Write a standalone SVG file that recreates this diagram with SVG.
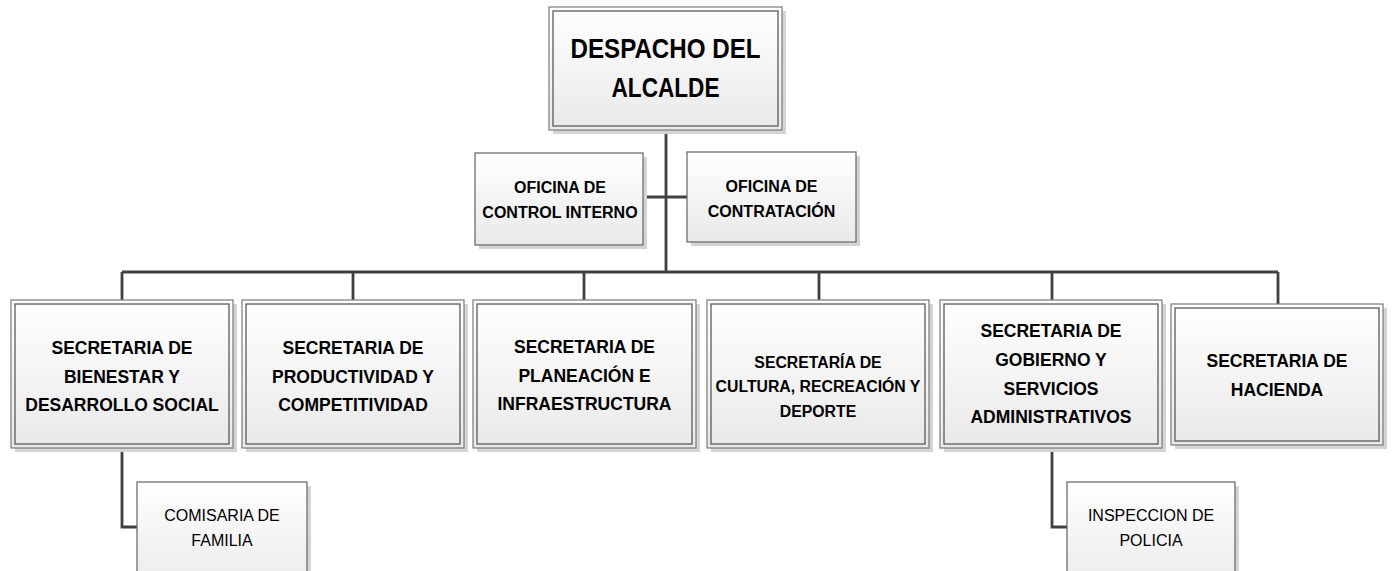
<svg xmlns="http://www.w3.org/2000/svg" width="1392" height="571" viewBox="0 0 1392 571">
<defs>
<linearGradient id="g" x1="0" y1="0" x2="0" y2="1">
<stop offset="0" stop-color="#ffffff"/>
<stop offset="1" stop-color="#e9e9e9"/>
</linearGradient>
<style>
.sh{fill:#d4d4d4}
.box{fill:url(#g);stroke:#7a7a7a;stroke-width:1.2}
.inner{fill:none;stroke:#5a5a5a;stroke-width:1.3}
.single{fill:url(#g);stroke:#6e6e6e;stroke-width:1.3}
.conn{fill:none;stroke:#404040;stroke-width:2.8}
text{font-family:"Liberation Sans",Arial,sans-serif;fill:#000;text-anchor:middle}
.b{font-weight:bold}
.t1{font-size:28px}
.t2{font-size:16px}
.t3{font-size:17.5px}
.t4{font-size:15.8px}
.t5{font-size:16px}
</style>
</defs>
<rect width="1392" height="571" fill="#ffffff"/>

<g id="connectors">
<path class="conn" d="M666 130 V272"/>
<path class="conn" d="M643 197 H687"/>
<path class="conn" d="M122 272 H1278"/>
<path class="conn" d="M122 272 V300 M353 272 V300 M584 272 V300 M819 272 V300 M1052 272 V300 M1278 272 V304"/>
<path class="conn" d="M122 448 V527 H137"/>
<path class="conn" d="M1052 448 V527 H1067"/>
</g>

<g id="despacho">
<rect class="sh" x="553" y="11" width="233" height="123"/>
<rect class="box" x="549" y="7" width="233" height="123"/>
<rect class="inner" x="553" y="11" width="225" height="115"/>
<text class="b t1" x="665.5" y="58" textLength="190" lengthAdjust="spacingAndGlyphs">DESPACHO DEL</text>
<text class="b t1" x="665.5" y="97" textLength="108" lengthAdjust="spacingAndGlyphs">ALCALDE</text>
</g>

<g id="control-interno">
<rect class="sh" x="479" y="157" width="168" height="92"/>
<rect class="single" x="475" y="153" width="168" height="92"/>
<text class="b t2" x="560" y="193">OFICINA DE</text>
<text class="b t2" x="560" y="218">CONTROL INTERNO</text>
</g>

<g id="contratacion">
<rect class="sh" x="691" y="156" width="169" height="90"/>
<rect class="single" x="687" y="152" width="169" height="90"/>
<text class="b t2" x="771.5" y="192">OFICINA DE</text>
<text class="b t2" x="771.5" y="217">CONTRATACIÓN</text>
</g>

<g id="bienestar">
<rect class="sh" x="15" y="304" width="222" height="148"/>
<rect class="box" x="11" y="300" width="222" height="148"/>
<rect class="inner" x="15" y="304" width="214" height="140"/>
<text class="b t3" x="122" y="354">SECRETARIA DE</text>
<text class="b t3" x="122" y="383">BIENESTAR Y</text>
<text class="b t3" x="122" y="411">DESARROLLO SOCIAL</text>
</g>

<g id="productividad">
<rect class="sh" x="246" y="304" width="222" height="148"/>
<rect class="box" x="242" y="300" width="222" height="148"/>
<rect class="inner" x="246" y="304" width="214" height="140"/>
<text class="b t3" x="353" y="354">SECRETARIA DE</text>
<text class="b t3" x="353" y="383">PRODUCTIVIDAD Y</text>
<text class="b t3" x="353" y="411">COMPETITIVIDAD</text>
</g>

<g id="planeacion">
<rect class="sh" x="477" y="304" width="223" height="148"/>
<rect class="box" x="473" y="300" width="223" height="148"/>
<rect class="inner" x="477" y="304" width="215" height="140"/>
<text class="b t3" x="584.5" y="353">SECRETARIA DE</text>
<text class="b t3" x="584.5" y="382">PLANEACIÓN E</text>
<text class="b t3" x="584.5" y="410">INFRAESTRUCTURA</text>
</g>

<g id="cultura">
<rect class="sh" x="711" y="304" width="222" height="148"/>
<rect class="box" x="707" y="300" width="222" height="148"/>
<rect class="inner" x="711" y="304" width="214" height="140"/>
<text class="b t4" x="818" y="368">SECRETARÍA DE</text>
<text class="b t4" x="818" y="392">CULTURA, RECREACIÓN Y</text>
<text class="b t4" x="818" y="417">DEPORTE</text>
</g>

<g id="gobierno">
<rect class="sh" x="944" y="304" width="222" height="148"/>
<rect class="box" x="940" y="300" width="222" height="148"/>
<rect class="inner" x="944" y="304" width="214" height="140"/>
<text class="b t3" x="1051" y="337">SECRETARIA DE</text>
<text class="b t3" x="1051" y="366">GOBIERNO Y</text>
<text class="b t3" x="1051" y="395">SERVICIOS</text>
<text class="b t3" x="1051" y="423">ADMINISTRATIVOS</text>
</g>

<g id="hacienda">
<rect class="sh" x="1175" y="308" width="212" height="141"/>
<rect class="box" x="1171" y="304" width="212" height="141"/>
<rect class="inner" x="1175" y="308" width="204" height="133"/>
<text class="b t3" x="1277" y="367">SECRETARIA DE</text>
<text class="b t3" x="1277" y="396">HACIENDA</text>
</g>

<g id="comisaria">
<rect class="sh" x="141" y="486" width="170" height="110"/>
<rect class="single" x="137" y="482" width="170" height="110"/>
<text class="t5" x="222" y="521">COMISARIA DE</text>
<text class="t5" x="222" y="546">FAMILIA</text>
</g>

<g id="inspeccion">
<rect class="sh" x="1071" y="486" width="168" height="110"/>
<rect class="single" x="1067" y="482" width="168" height="110"/>
<text class="t5" x="1151" y="521">INSPECCION DE</text>
<text class="t5" x="1151" y="546">POLICIA</text>
</g>
</svg>
